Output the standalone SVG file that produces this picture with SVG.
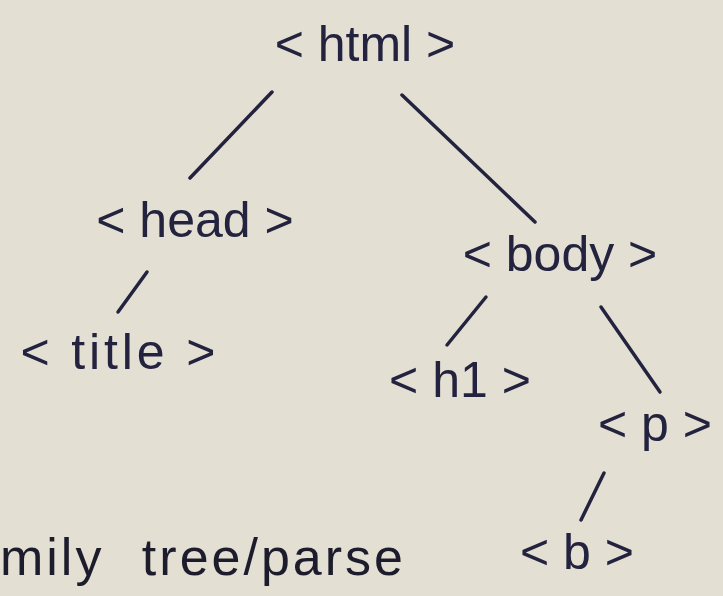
<svg xmlns="http://www.w3.org/2000/svg" width="723" height="596" viewBox="0 0 723 596">
<style>
.bg{fill:#e4dfd3}
.n{font-family:"Liberation Sans",Arial,sans-serif;font-size:50px;fill:#23233f;text-anchor:middle;dominant-baseline:central}
.e{stroke:#23233f;stroke-width:3.5;stroke-linecap:round;fill:none}
.cap{font-family:"Liberation Sans",Arial,sans-serif;font-size:52px;letter-spacing:3px;word-spacing:20px;fill:#1c1c2c}
</style>
<rect class="bg" x="0" y="0" width="723" height="596"/>
<g id="connectors">
<line class="e" x1="272" y1="92" x2="190" y2="178"/>
<line class="e" x1="402" y1="95" x2="535" y2="222"/>
<line class="e" x1="147" y1="272" x2="118" y2="312"/>
<line class="e" x1="486" y1="297" x2="447" y2="345"/>
<line class="e" x1="601" y1="307" x2="660" y2="392"/>
<line class="e" x1="604" y1="473" x2="581" y2="520"/>
</g>
<g id="html"><text class="n" x="365" y="44">&lt; html &gt;</text></g>
<g id="head"><text class="n" x="195" y="220">&lt; head &gt;</text></g>
<g id="body"><text class="n" x="560" y="254">&lt; body &gt;</text></g>
<g id="title"><text class="n" x="118" y="352" textLength="195" lengthAdjust="spacing">&lt; title &gt;</text></g>
<g id="h1"><text class="n" x="460" y="380">&lt; h1 &gt;</text></g>
<g id="p"><text class="n" x="655" y="424">&lt; p &gt;</text></g>
<g id="b"><text class="n" x="577" y="552">&lt; b &gt;</text></g>
<g id="caption"><text class="cap" x="0" y="575">mily tree/parse</text></g>
</svg>
